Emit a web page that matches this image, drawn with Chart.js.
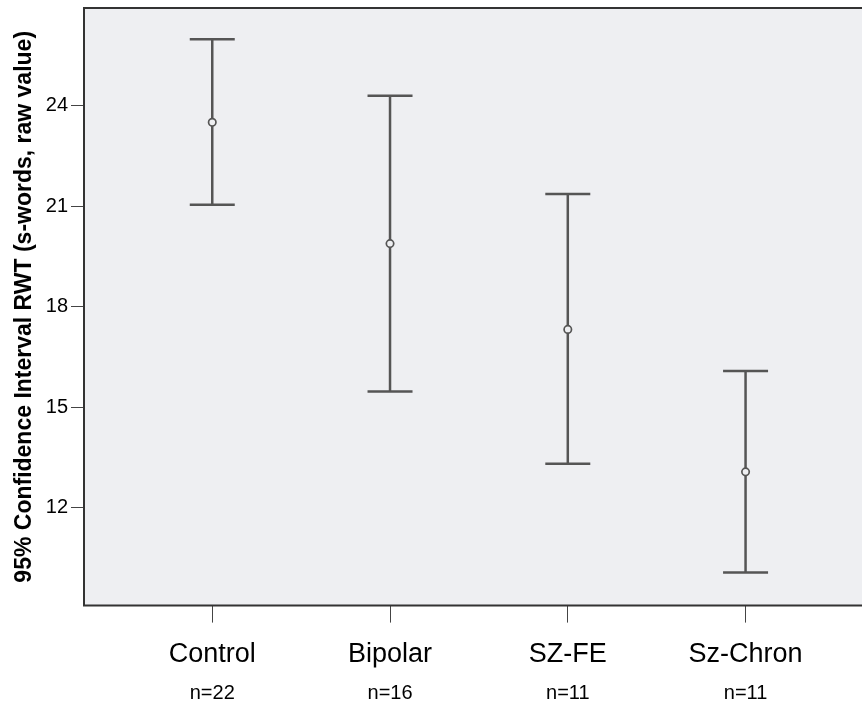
<!DOCTYPE html>
<html>
<head>
<meta charset="utf-8">
<script src="https://cdn.jsdelivr.net/npm/chart.js@4"></script>
<style>
  html, body { margin: 0; padding: 0; background: #fff; overflow: hidden; }
  canvas { display: block; }
</style>
</head>
<body>
<canvas id="ciChart" width="862" height="704"></canvas>
<script>
// Data
const groups = ['Control', 'Bipolar', 'SZ-FE', 'Sz-Chron'];
const nLabels = ['n=22', 'n=16', 'n=11', 'n=11'];
const means = [23.50, 19.88, 17.32, 13.07];
const lower = [21.04, 15.47, 13.31, 10.07];
const upper = [25.98, 24.29, 21.36, 16.08];
const yTicks = [12, 15, 18, 21, 24];

const PLOT_BG = '#eeeff2';
const INK = '#555555';
const FONT = "'Liberation Sans', Arial, Helvetica, sans-serif";

// build marks from the arrays
const xPos = groups.map((g, i) => i + 1);
const whiskers = [];
const caps = [];
const meanPts = [];
groups.forEach((g, i) => {
    whiskers.push({ x: xPos[i], y: lower[i] });
    whiskers.push({ x: xPos[i], y: upper[i] });
    whiskers.push({ x: xPos[i] + 0.5, y: null }); // break the line
    caps.push({ x: xPos[i], y: lower[i] });
    caps.push({ x: xPos[i], y: upper[i] });
    meanPts.push({ x: xPos[i], y: means[i] });
});

// plot background + frame (top, left, bottom; right edge is cut off)
const plotFrame = {
    id: 'plotFrame',
    beforeDatasetsDraw(chart) {
        const { ctx, chartArea: a } = chart;
        ctx.save();
        ctx.fillStyle = PLOT_BG;
        ctx.fillRect(a.left, a.top, a.right - a.left + 2, a.bottom - a.top);
        ctx.restore();
    },
    afterDraw(chart) {
        const { ctx, chartArea: a } = chart;
        ctx.save();
        ctx.strokeStyle = '#333';
        ctx.lineWidth = 2;
        ctx.beginPath();
        ctx.moveTo(a.right + 2, a.top);
        ctx.lineTo(a.left, a.top);
        ctx.lineTo(a.left, a.bottom);
        ctx.lineTo(a.right + 2, a.bottom);
        ctx.stroke();
        ctx.restore();
    }
};

const xRange = { min: 0.2785, max: 4.655 };

function noPad(s) {
    s.paddingTop = 0;
    s.paddingBottom = 0;
    s.paddingLeft = 0;
    s.paddingRight = 0;
}

new Chart(document.getElementById('ciChart'), {
    type: 'scatter',
    data: {
        datasets: [
            {
                type: 'line',
                data: whiskers,
                borderColor: INK,
                borderWidth: 2.5,
                pointRadius: 0,
                spanGaps: false,
                order: 3
            },
            {
                data: caps,
                pointStyle: 'line',
                pointRadius: 22.5,
                borderColor: INK,
                borderWidth: 2.5,
                order: 2
            },
            {
                data: meanPts,
                pointStyle: 'circle',
                pointRadius: 3.7,
                borderColor: INK,
                backgroundColor: PLOT_BG,
                borderWidth: 1.7,
                order: 1
            }
        ]
    },
    options: {
        responsive: false,
        animation: false,
        events: [],
        layout: { autoPadding: false, padding: { top: 8, left: 0, right: 0, bottom: 0 } },
        plugins: {
            legend: { display: false },
            tooltip: { enabled: false }
        },
        scales: {
            x: {
                type: 'linear',
                position: 'bottom',
                min: xRange.min,
                max: xRange.max,
                afterBuildTicks: s => { s.ticks = xPos.map(v => ({ value: v })); },
                afterFit: s => { s.height = 62; noPad(s); },
                border: { display: false },
                grid: { drawOnChartArea: false, tickLength: 17, color: '#444', lineWidth: 1 },
                ticks: {
                    padding: 16,
                    color: '#000',
                    font: { family: FONT, size: 27 },
                    callback: v => groups[v - 1]
                }
            },
            x2: {
                type: 'linear',
                axis: 'x',
                position: 'bottom',
                min: xRange.min,
                max: xRange.max,
                afterBuildTicks: s => { s.ticks = xPos.map(v => ({ value: v })); },
                afterFit: s => { s.height = 36.4; noPad(s); },
                border: { display: false },
                grid: { display: false },
                ticks: {
                    padding: 6,
                    color: '#000',
                    font: { family: FONT, size: 20 },
                    callback: v => nLabels[v - 1]
                }
            },
            y: {
                min: 9.08,
                max: 26.91,
                afterBuildTicks: s => { s.ticks = yTicks.map(v => ({ value: v })); },
                afterFit: s => { s.width = 84; noPad(s); },
                border: { display: false },
                grid: { drawOnChartArea: false, tickLength: 13, color: '#444', lineWidth: 1 },
                ticks: {
                    padding: 3,
                    color: '#000',
                    font: { family: FONT, size: 20 }
                },
                title: {
                    display: true,
                    text: '95% Confidence Interval RWT (s-words, raw value)',
                    color: '#000',
                    padding: { top: 11, bottom: 0 },
                    font: { family: FONT, size: 23, weight: 'bold' }
                }
            }
        }
    },
    plugins: [plotFrame]
});
</script>
</body>
</html>
